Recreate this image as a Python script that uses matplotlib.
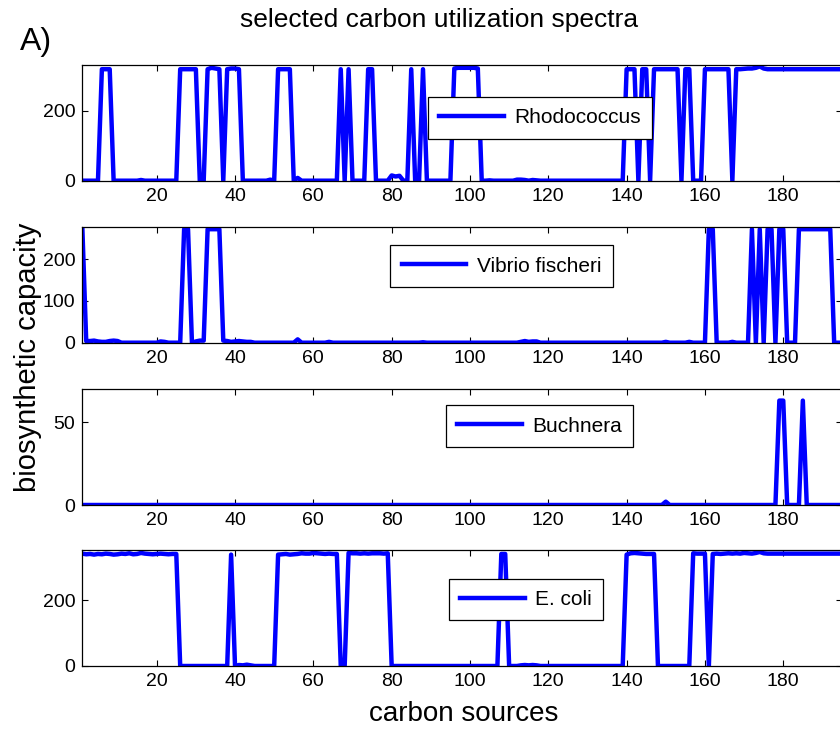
import numpy as np
import matplotlib
matplotlib.use("Agg")
import matplotlib.pyplot as plt

plt.rcParams['font.family'] = ['Liberation Sans', 'DejaVu Sans']

# ── Datos ──────────────────────────────────────────────────────────────────
carbon_idx = np.arange(1, 196)   # fuentes de carbono visibles (1..195)

species = ['Rhodococcus', 'Vibrio fischeri', 'Buchnera', 'E. coli']

rhodococcus = [
    0, 0, 0, 0, 0, 318, 318, 318, 0, 0,
    0, 0, 0, 0, 0, 2, 0, 0, 0, 0,
    0, 0, 0, 0, 0, 318, 318, 318, 318, 318,
    0, 0, 318, 322, 320, 318, 0, 318, 320, 320,
    318, 0, 0, 0, 0, 0, 0, 0, 3, 0,
    318, 318, 318, 318, 0, 8, 0, 0, 0, 0,
    0, 0, 0, 0, 0, 0, 318, 0, 318, 0,
    0, 0, 0, 318, 318, 0, 0, 0, 0, 15,
    12, 14, 0, 0, 318, 0, 0, 318, 0, 0,
    0, 0, 0, 0, 0, 320, 322, 322, 322, 322,
    322, 320, 0, 0, 1, 0, 0, 0, 0, 0,
    0, 3, 3, 2, 0, 2, 1, 0, 0, 0,
    0, 0, 0, 0, 0, 0, 0, 0, 0, 0,
    0, 0, 0, 0, 0, 0, 0, 0, 0, 318,
    318, 318, 0, 318, 318, 0, 318, 318, 318, 318,
    318, 318, 318, 0, 318, 318, 0, 0, 0, 318,
    318, 318, 318, 318, 318, 318, 0, 318, 318, 319,
    320, 320, 322, 326, 320, 318, 318, 318, 318, 318,
    318, 318, 318, 318, 318, 318, 318, 318, 318, 318,
    318, 318, 318, 318, 318,
]

vibrio = [
    278, 4, 4, 5, 3, 2, 2, 4, 5, 4,
    0, 0, 0, 0, 0, 0, 0, 0, 0, 0,
    3, 2, 0, 0, 0, 0, 272, 272, 0, 3,
    5, 5, 272, 272, 272, 272, 5, 4, 2, 3,
    4, 3, 2, 2, 0, 0, 0, 0, 0, 0,
    0, 0, 0, 0, 0, 8, 0, 0, 0, 0,
    0, 0, 0, 2, 0, 0, 0, 0, 0, 0,
    0, 0, 0, 0, 0, 0, 0, 0, 0, 0,
    0, 0, 0, 0, 0, 0, 0, 1, 0, 0,
    0, 0, 0, 0, 0, 0, 0, 0, 0, 0,
    0, 0, 0, 0, 0, 0, 0, 0, 0, 0,
    0, 0, 2, 4, 2, 3, 3, 0, 0, 0,
    0, 0, 0, 0, 0, 0, 0, 0, 0, 0,
    0, 0, 0, 0, 0, 0, 0, 0, 0, 0,
    0, 0, 0, 0, 0, 0, 0, 0, 0, 2,
    0, 0, 0, 0, 0, 2, 0, 0, 0, 0,
    272, 272, 0, 0, 0, 0, 2, 0, 0, 0,
    0, 272, 0, 272, 0, 272, 272, 0, 272, 272,
    0, 0, 0, 272, 272, 272, 272, 272, 272, 272,
    272, 272, 0, 0, 0,
]

buchnera = [
    0, 0, 0, 0, 0, 0, 0, 0, 0, 0,
    0, 0, 0, 0, 0, 0, 0, 0, 0, 0,
    0, 0, 0, 0, 0, 0, 0, 0, 0, 0,
    0, 0, 0, 0, 0, 0, 0, 0, 0, 0,
    0, 0, 0, 0, 0, 0, 0, 0, 0, 0,
    0, 0, 0, 0, 0, 0, 0, 0, 0, 0,
    0, 0, 0, 0, 0, 0, 0, 0, 0, 0,
    0, 0, 0, 0, 0, 0, 0, 0, 0, 0,
    0, 0, 0, 0, 0, 0, 0, 0, 0, 0,
    0, 0, 0, 0, 0, 0, 0, 0, 0, 0,
    0, 0, 0, 0, 0, 0, 0, 0, 0, 0,
    0, 0, 0, 0, 0, 0, 0, 0, 0, 0,
    0, 0, 0, 0, 0, 0, 0, 0, 0, 0,
    0, 0, 0, 0, 0, 0, 0, 0, 0, 0,
    0, 0, 0, 0, 0, 0, 0, 0, 0, 2,
    0, 0, 0, 0, 0, 0, 0, 0, 0, 0,
    0, 0, 0, 0, 0, 0, 0, 0, 0, 0,
    0, 0, 0, 0, 0, 0, 0, 0, 63, 63,
    0, 0, 0, 0, 63, 0, 0, 0, 0, 0,
    0, 0, 0, 0, 0,
]

ecoli = [
    341, 339, 340, 338, 340, 339, 341, 340, 338, 339,
    341, 340, 342, 339, 340, 343, 341, 340, 339, 340,
    341, 340, 339, 340, 340, 0, 0, 0, 0, 0,
    0, 0, 0, 0, 0, 0, 0, 0, 338, 0,
    3, 2, 4, 2, 0, 0, 0, 0, 0, 0,
    338, 339, 340, 338, 339, 340, 342, 341, 341, 343,
    342, 341, 340, 341, 340, 340, 0, 0, 343, 342,
    342, 341, 342, 341, 342, 342, 342, 341, 342, 0,
    0, 0, 0, 0, 0, 0, 0, 0, 0, 0,
    0, 0, 0, 0, 0, 0, 0, 0, 0, 0,
    0, 0, 0, 0, 0, 0, 0, 340, 340, 0,
    0, 0, 2, 3, 2, 3, 2, 0, 0, 0,
    0, 0, 0, 0, 0, 0, 0, 0, 0, 0,
    0, 0, 0, 0, 0, 0, 0, 0, 0, 338,
    342, 343, 342, 341, 340, 340, 340, 0, 0, 0,
    0, 0, 0, 0, 0, 0, 342, 341, 341, 341,
    0, 340, 341, 340, 341, 342, 341, 342, 341, 343,
    342, 341, 343, 346, 342, 341, 341, 341, 341, 341,
    341, 341, 341, 341, 341, 341, 341, 341, 341, 341,
    341, 341, 341, 341, 341,
]

series = [rhodococcus, vibrio, buchnera, ecoli]
y_tops = [330, 278, 70, 352]
y_ticks = [[0, 200], [0, 100, 200], [0, 50], [0, 200]]
x_ticks = [20, 40, 60, 80, 100, 120, 140, 160, 180]

# ── Layout (fracciones de figura, el eje derecho se sale del recorte) ──────
W, H = 840, 730
left_px, right_px = 82.3, 842.0
tops_px = [65.0, 226.7, 389.0, 550.0]
bots_px = [180.7, 342.7, 505.0, 666.0]
leg_centers = [(0.6025, 0.542), (0.5518, 0.661), (0.6018, 0.681), (0.584, 0.573)]

fig = plt.figure(figsize=(W / 100, H / 100), dpi=100)

for i, (vals, name) in enumerate(zip(series, species)):
    ax = fig.add_axes([left_px / W, 1 - bots_px[i] / H,
                       (right_px - left_px) / W, (bots_px[i] - tops_px[i]) / H])
    ax.plot(carbon_idx, vals, color=(0, 0, 1), lw=3.2, label=name,
            solid_joinstyle='round')
    ax.set_xticks(x_ticks)
    ax.set_yticks(y_ticks[i])
    ax.set_xlim(1, 195)
    ax.set_ylim(0, y_tops[i])
    ax.tick_params(direction='in', top=True, right=True, length=4,
                   width=0.8, labelsize=14, pad=5)
    for sp in ax.spines.values():
        sp.set_linewidth(0.9)
    leg = ax.legend(loc='center', bbox_to_anchor=leg_centers[i],
                    fancybox=False, edgecolor='black', framealpha=1,
                    fontsize=15, handlelength=3.1, handletextpad=0.5,
                    borderpad=0.55)
    leg.get_frame().set_linewidth(0.9)

fig.text(439 / W, 1 - 20 / H, "selected carbon utilization spectra",
         ha='center', va='center', fontsize=19)
fig.text(36 / W, 1 - 42 / H, "A)", ha='center', va='center', fontsize=23)
fig.text(464 / W, 1 - 714 / H, "carbon sources",
         ha='center', va='center', fontsize=20)
fig.text(28 / W, 1 - 357 / H, "biosynthetic capacity", rotation=90,
         ha='center', va='center', fontsize=21)

fig.savefig("out.png", dpi=100)
